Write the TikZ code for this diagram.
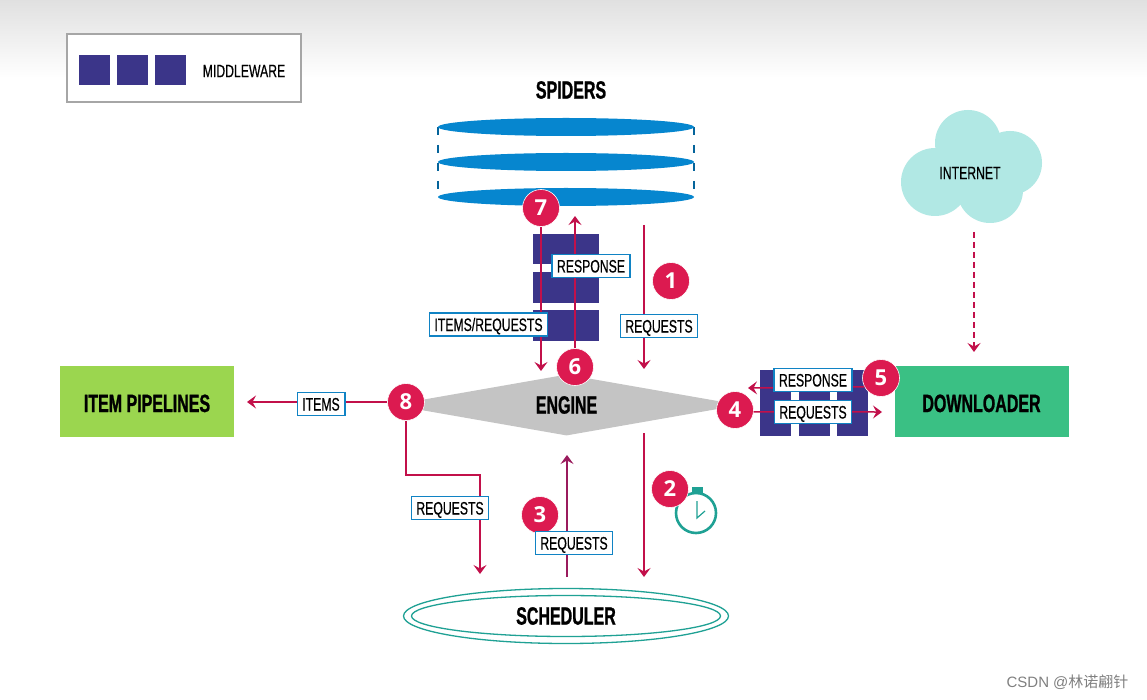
\documentclass[tikz,border=0pt]{standalone}
\usepackage{fontspec}
\usepackage{xcolor}
\usepackage{tikz}
\usetikzlibrary{arrows.meta,shapes.geometric}
\setmainfont{Liberation Sans}
\newfontfamily\narrowfont[FakeStretch=0.68,FakeBold=0.5]{Liberation Sans}
\newfontfamily\titlefont[FakeStretch=0.64,BoldFeatures={FakeBold=1}]{Liberation Sans}
\newfontfamily\numfont{Open Sans}
\newfontfamily\cjkfont{Noto Sans CJK SC}
\definecolor{mwblue}{HTML}{3B3589}
\definecolor{flowred}{HTML}{C2104A}
\definecolor{badgered}{HTML}{DC1A50}
\definecolor{labelblue}{HTML}{1083C4}
\definecolor{discblue}{HTML}{0686CF}
\definecolor{tealline}{HTML}{1FA194}
\definecolor{cloudc}{HTML}{B1E8E4}
\definecolor{pipegreen}{HTML}{9BD64F}
\definecolor{dlgreen}{HTML}{3AC084}
\tikzset{
  flow/.style={flowred,line width=1.5pt,-{Stealth[length=9pt,width=13pt,inset=3.5pt]}},
  mw/.style={fill=mwblue,draw=none},
  rim/.style={discblue!75!black,line width=1.2pt,dash pattern=on 8pt off 10pt},
  badge/.style={circle,fill=badgered,draw=white,line width=0.6pt,minimum size=37pt,inner sep=0pt,
    text=white,font=\numfont\bfseries\fontsize{22}{22}\selectfont},
  tag/.style={rectangle,fill=white,draw=labelblue,line width=1.6pt,inner xsep=5pt,inner ysep=5pt,
    text height=13pt,text depth=0pt,font=\narrowfont\fontsize{18}{18}\selectfont},
  title/.style={font=\titlefont\bfseries\fontsize{25}{25}\selectfont},
  disc/.style={ellipse,fill=discblue,minimum width=256pt,minimum height=18pt,inner sep=0pt},
  stage/.style={rectangle,minimum width=174pt,minimum height=71pt,inner sep=0pt,text height=21pt,text depth=0pt},
}
\begin{document}
\begin{tikzpicture}[x=1pt,y=-1pt]
  \path[use as bounding box,fill=white] (0,0) rectangle (1147,700);
  \shade[top color=black!12,bottom color=white] (0,0) rectangle (1147,78);

  \draw[black!35,line width=1.5pt,fill=white] (67,34) rectangle (301,102);
  \foreach \x in {79,117,155}
    \fill[mw] (\x,55) rectangle ++(31,30);
  \node[font=\narrowfont\fontsize{18}{18}\selectfont] (legend) at (244,71) {MIDDLEWARE};

  \node[title] (spiders) at (571,90) {SPIDERS};
  \draw[rim] (438,127) -- (438,197);
  \draw[rim] (694,127) -- (694,197);
  \node[disc] (disca) at (566,127) {};
  \node[disc] (discb) at (566,162) {};
  \node[disc] (discc) at (566,197) {};

  \foreach \y/\h in {234/30,272/31,310/31}
    \fill[mw] (533,\y) rectangle ++(66,\h);
  \foreach \x in {760,799,837}
    \fill[mw] (\x,370) rectangle ++(31,66);

  \node[diamond,fill=black!23,minimum width=348pt,minimum height=61pt,aspect=5.7,inner sep=0pt,title] (engine) at (566.5,405) {ENGINE};
  \node[stage,fill=pipegreen,title] (pipelines) at (147,401.5) {ITEM PIPELINES};
  \node[stage,fill=dlgreen,title] (downloader) at (981.5,401.5) {DOWNLOADER};

  \fill[cloudc] (968,143) circle (33);
  \fill[cloudc] (1010,163) circle (32);
  \fill[cloudc] (935,182) circle (34);
  \fill[cloudc] (990,190) circle (33);
  \fill[cloudc] (965,170) circle (35);
  \node[font=\narrowfont\fontsize{18}{18}\selectfont] (internet) at (970,173) {INTERNET};

  \draw[tealline,line width=2.6pt,fill=white] (696,513) circle (20);
  \fill[tealline] (692,487) rectangle (703,494);
  \draw[tealline,line width=1.2pt] (697,501) -- (697,518) -- (705,511);

  \node[badge] (b1) at (671,281) {1};
  \node[badge] (b2) at (670,489) {2};
  \node[badge] (b3) at (540,515) {3};
  \node[badge] (b4) at (735,410) {4};
  \node[badge] (b5) at (881,378) {5};
  \node[badge] (b6) at (575,367) {6};
  \node[badge] (b7) at (541,208) {7};
  \node[badge] (b8) at (406,402) {8};

  \coordinate (reqtop) at (644,225);
  \coordinate (reqend) at (644,369);
  \coordinate (schedtop) at (644,433);
  \coordinate (schedend) at (644,577);
  \coordinate (pullstart) at (567,577);
  \coordinate (pullend) at (567,455);
  \coordinate (resptop) at (575,216);
  \coordinate (itemsend) at (541,371);
  \coordinate (itemsleft) at (247,402);
  \coordinate (backend) at (480,574);
  \coordinate (respend) at (748,388);
  \coordinate (reqright) at (882,412);
  \coordinate (cloudfoot) at (974,232);
  \coordinate (cloudend) at (974,352);

  \draw[flow] (reqtop) -- (reqend);
  \draw[flow] (schedtop) -- (schedend);
  \draw[flow,flowred!70!mwblue] (pullstart) -- (pullend);
  \draw[flow] (b6) -- (resptop);
  \draw[flow] (b7) -- (itemsend);
  \draw[flow] (b8) -- (itemsleft);
  \draw[flow] (b8.south) |- (480,475) -- (backend);
  \draw[flow] (b5.208) -- (respend);
  \draw[flow] (b4.-6) -- (reqright);
  \draw[flow,dash pattern=on 6pt off 4pt] (cloudfoot) -- (cloudend);

  \node[tag] (tresp) at (591,266) {RESPONSE};
  \node[tag] (titems) at (488.5,324.5) {ITEMS/REQUESTS};
  \node[tag] (treq) at (659,326) {REQUESTS};
  \node[tag] (titm) at (321,404) {ITEMS};
  \node[tag] (tdresp) at (813,380) {RESPONSE};
  \node[tag] (tdreq) at (813,412) {REQUESTS};
  \node[tag] (tback) at (450,508) {REQUESTS};
  \node[tag] (tpull) at (574,543) {REQUESTS};

  \node[ellipse,draw=tealline,line width=1.3pt,minimum width=325pt,minimum height=55pt,inner sep=0pt] (schedout) at (566,616) {};
  \node[ellipse,draw=tealline,line width=1.3pt,minimum width=309pt,minimum height=41pt,inner sep=0pt,title] (scheduler) at (566,616) {SCHEDULER};

  \node[anchor=east,text=black!50,font=\fontsize{15}{15}\selectfont] (mark) at (1132,682) {CSDN @{\cjkfont 林诺翩针}};
\end{tikzpicture}
\end{document}
